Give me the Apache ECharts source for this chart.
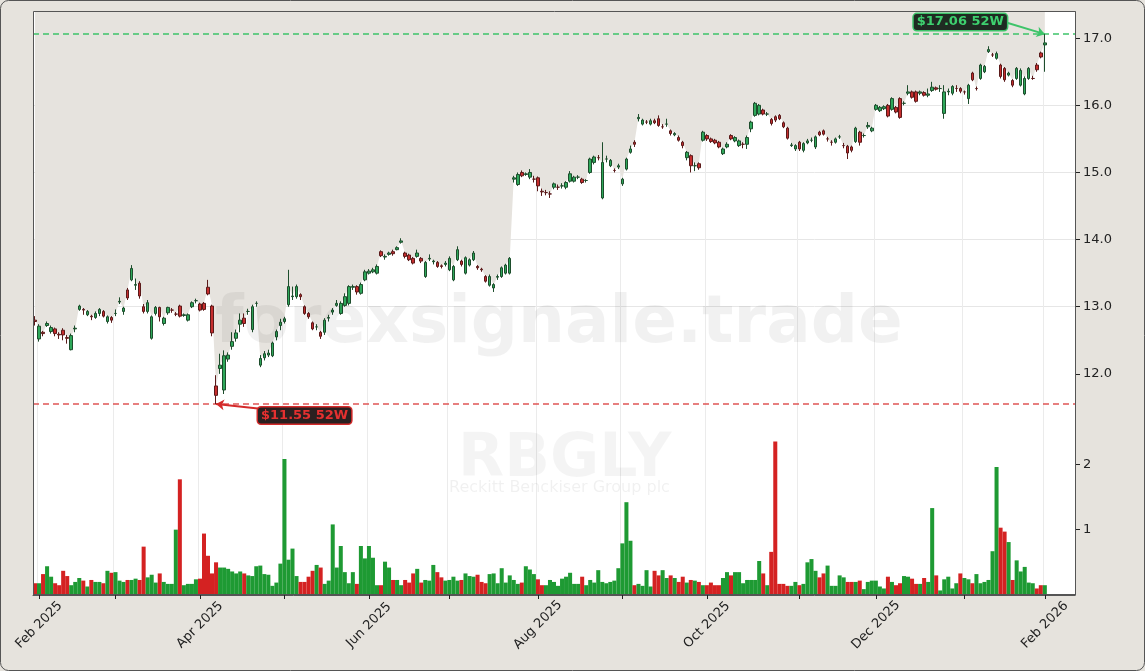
<!DOCTYPE html>
<html><head><meta charset="utf-8">
<script src="https://cdn.jsdelivr.net/npm/echarts@6/dist/echarts.min.js"></script>
<style>html,body{margin:0;padding:0;background:#e6e3dd;}#c{width:1145px;height:671px;}</style>
</head><body><div id="c"></div>
<script>
// OHLC [open, close, low, high] per trading day, starting 2025-01-31
const ohlc = [
[12.80,12.78,12.72,12.86],[12.52,12.71,12.48,12.74],[12.62,12.60,12.56,12.64],[12.72,12.75,12.70,12.78],[12.63,12.69,12.60,12.72],
[12.67,12.60,12.56,12.69],[12.59,12.58,12.52,12.62],[12.65,12.58,12.50,12.68],[12.54,12.53,12.45,12.58],[12.36,12.57,12.35,12.60],
[12.67,12.68,12.62,12.72],[12.96,13.01,12.94,13.03],[12.96,12.95,12.88,12.98],[12.88,12.93,12.86,12.95],[12.86,12.85,12.80,12.88],
[12.84,12.90,12.82,12.93],[12.90,12.96,12.86,12.98],[12.93,12.86,12.84,12.95],[12.78,12.85,12.75,12.87],[12.84,12.80,12.76,12.86],
[12.90,12.90,12.86,12.96],[13.07,13.08,13.04,13.14],[12.93,12.98,12.88,13.00],[13.25,13.13,13.10,13.28],[13.40,13.57,13.38,13.62],
[13.32,13.33,13.25,13.42],[13.35,13.16,13.12,13.38],[13.00,12.93,12.90,13.04],[12.93,13.06,12.90,13.10],[12.53,12.85,12.51,12.87],
[12.90,12.99,12.87,13.01],[12.99,12.85,12.78,13.00],[12.75,12.83,12.72,12.85],[12.91,12.99,12.88,13.00],[12.95,12.95,12.91,12.98],
[12.89,12.89,12.86,12.92],[13.01,12.86,12.84,13.03],[12.87,12.88,12.85,12.90],[12.80,12.88,12.78,12.90],[13.00,13.06,12.98,13.08],
[13.09,13.09,13.05,13.12],[13.04,12.95,12.93,13.06],[13.05,12.96,12.94,13.07],[13.29,13.19,13.17,13.40],[13.01,12.61,12.56,13.03],
[11.82,11.68,11.55,11.98],[12.08,12.13,12.00,12.30],[11.76,12.27,11.70,12.35],[12.22,12.28,12.18,12.32],[12.41,12.48,12.36,12.62],
[12.53,12.61,12.48,12.66],[12.74,12.80,12.62,12.90],[12.83,12.75,12.70,12.90],[12.93,12.93,12.88,12.97],[12.66,13.00,12.62,13.03],
[13.05,13.05,13.00,13.08],[12.13,12.23,12.10,12.28],[12.24,12.30,12.20,12.34],[12.28,12.31,12.25,12.36],[12.27,12.46,12.25,12.48],
[12.55,12.63,12.50,12.66],[12.72,12.77,12.65,12.82],[12.78,12.82,12.75,12.85],[13.03,13.30,13.00,13.55],[13.15,13.16,13.10,13.30],
[13.15,13.30,13.12,13.33],[13.18,13.15,13.10,13.20],[13.00,12.90,12.88,13.02],[12.90,12.85,12.82,12.92],[12.76,12.67,12.65,12.78],
[12.70,12.70,12.65,12.74],[12.62,12.56,12.52,12.64],[12.62,12.80,12.58,12.83],[12.83,12.84,12.78,12.88],[12.92,12.95,12.88,12.98],
[13.02,13.05,13.00,13.10],[12.90,13.05,12.88,13.08],[13.02,13.15,13.00,13.20],[13.05,13.30,13.02,13.32],[13.29,13.30,13.25,13.33],
[13.30,13.22,13.18,13.32],[13.20,13.33,13.18,13.36],[13.40,13.52,13.38,13.55],[13.50,13.53,13.48,13.56],[13.52,13.55,13.50,13.58],
[13.50,13.60,13.48,13.63],[13.82,13.76,13.74,13.84],[13.74,13.75,13.70,13.78],[13.78,13.80,13.76,13.82],[13.82,13.79,13.76,13.85],
[13.85,13.88,13.84,13.90],[13.96,13.98,13.94,14.02],[13.80,13.75,13.72,13.82],[13.77,13.70,13.68,13.79],[13.72,13.65,13.63,13.74],
[13.75,13.80,13.73,13.85],[13.72,13.68,13.65,13.74],[13.45,13.66,13.43,13.68],[13.71,13.72,13.68,13.78],[13.67,13.68,13.63,13.70],
[13.66,13.60,13.58,13.68],[13.61,13.60,13.57,13.63],[13.63,13.65,13.60,13.68],[13.55,13.72,13.53,13.75],[13.40,13.60,13.38,13.62],
[13.70,13.85,13.68,13.90],[13.68,13.63,13.60,13.70],[13.50,13.73,13.48,13.75],[13.62,13.70,13.60,13.72],[13.70,13.80,13.68,13.83],
[13.60,13.58,13.55,13.62],[13.56,13.55,13.52,13.58],[13.45,13.38,13.36,13.47],[13.32,13.45,13.30,13.48],[13.28,13.33,13.22,13.35],
[13.44,13.45,13.40,13.48],[13.45,13.58,13.43,13.60],[13.50,13.62,13.48,13.64],[13.50,13.72,13.48,13.74],
[14.90,14.92,14.85,14.95],[14.82,14.97,14.80,15.00],[15.00,14.95,14.93,15.03],[14.97,14.98,14.95,15.00],[14.93,15.00,14.90,15.05],
[14.90,14.90,14.85,14.95],[14.92,14.80,14.72,14.94],[14.72,14.71,14.65,14.76],[14.70,14.70,14.66,14.74],[14.68,14.68,14.62,14.72],
[14.78,14.83,14.75,14.85],[14.78,14.78,14.74,14.82],[14.80,14.80,14.76,14.84],[14.78,14.85,14.75,14.87],[14.87,14.98,14.85,15.02],
[14.87,14.93,14.85,14.95],[14.93,14.93,14.90,14.96],[14.90,14.85,14.83,14.92],[14.88,14.88,14.85,14.90],[15.00,15.20,14.98,15.22],
[15.15,15.23,15.12,15.25],[15.22,15.22,15.18,15.26],[14.62,15.15,14.60,15.45],[15.20,15.20,15.15,15.25],[15.10,15.18,15.08,15.20],
[15.03,15.03,15.00,15.06],[15.08,15.10,15.05,15.13],[14.83,14.90,14.80,14.92],[15.05,15.20,15.03,15.22],[15.30,15.35,15.28,15.40],
[15.45,15.42,15.38,15.48],[15.80,15.82,15.76,15.87],[15.72,15.78,15.70,15.80],[15.75,15.75,15.72,15.78],[15.72,15.77,15.70,15.80],
[15.77,15.74,15.72,15.80],[15.80,15.70,15.68,15.85],[15.68,15.68,15.65,15.72],[15.72,15.72,15.68,15.80],[15.62,15.58,15.55,15.64],
[15.56,15.58,15.54,15.60],[15.52,15.48,15.46,15.55],[15.45,15.40,15.36,15.47],[15.22,15.30,15.18,15.32],[15.25,15.10,15.00,15.27],
[15.10,15.10,15.02,15.15],[15.13,15.07,15.04,15.15],[15.48,15.60,15.46,15.62],[15.55,15.50,15.47,15.57],[15.50,15.46,15.44,15.52],
[15.48,15.44,15.42,15.50],[15.45,15.38,15.36,15.47],[15.28,15.35,15.26,15.37],[15.38,15.42,15.36,15.45],[15.55,15.50,15.48,15.57],
[15.47,15.52,15.45,15.54],[15.40,15.47,15.38,15.49],[15.42,15.42,15.36,15.45],[15.42,15.52,15.35,15.55],[15.65,15.75,15.60,15.77],
[15.85,16.03,15.83,16.05],[15.87,16.00,15.85,16.02],[15.93,15.87,15.85,15.95],[15.87,15.87,15.84,15.90],[15.79,15.73,15.70,15.81],
[15.83,15.78,15.75,15.85],[15.85,15.80,15.78,15.87],[15.74,15.68,15.66,15.76],[15.66,15.51,15.49,15.68],[15.40,15.41,15.38,15.44],
[15.35,15.40,15.32,15.42],[15.45,15.35,15.32,15.47],[15.33,15.43,15.30,15.45],[15.44,15.47,15.42,15.50],[15.48,15.48,15.45,15.52],
[15.38,15.53,15.35,15.55],[15.60,15.56,15.54,15.62],[15.62,15.57,15.55,15.64],[15.50,15.50,15.46,15.53],[15.45,15.45,15.40,15.48],
[15.45,15.50,15.43,15.52],[15.53,15.53,15.50,15.56],[15.40,15.40,15.36,15.44],[15.39,15.29,15.20,15.41],[15.38,15.33,15.30,15.40],
[15.46,15.66,15.44,15.68],[15.60,15.45,15.40,15.62],[15.55,15.55,15.52,15.58],[15.68,15.70,15.65,15.75],[15.62,15.66,15.60,15.68],
[15.94,16.00,15.92,16.02],[15.92,15.97,15.90,15.99],[15.95,15.98,15.93,16.00],[16.00,15.84,15.82,16.02],[15.94,16.10,15.92,16.12],
[15.97,15.90,15.88,15.99],[16.10,15.82,15.80,16.12],[16.03,16.03,16.00,16.06],[16.18,16.20,16.15,16.30],[16.20,16.12,16.10,16.22],
[16.20,16.06,16.04,16.22],[16.18,16.20,16.15,16.22],[16.19,16.15,16.13,16.21],[16.15,16.17,16.12,16.25],[16.22,16.27,16.20,16.35],
[16.26,16.24,16.22,16.28],[16.25,16.25,16.20,16.30],[15.88,16.20,15.80,16.30],[16.20,16.21,16.15,16.25],[16.18,16.28,16.15,16.30],
[16.25,16.25,16.20,16.30],[16.25,16.21,16.18,16.27],[16.20,16.20,16.16,16.22],[16.10,16.30,16.02,16.32],[16.48,16.38,16.36,16.50],
[16.25,16.25,16.22,16.28],[16.40,16.60,16.38,16.62],[16.50,16.58,16.48,16.60],[16.80,16.83,16.78,16.88],[16.75,16.75,16.72,16.78],
[16.70,16.77,16.68,16.80],[16.60,16.43,16.40,16.62],[16.55,16.38,16.35,16.57],[16.45,16.48,16.43,16.50],[16.37,16.30,16.27,16.39],
[16.40,16.55,16.38,16.57],[16.30,16.52,16.28,16.55],[16.17,16.40,16.15,16.43],[16.40,16.55,16.38,16.57],[16.40,16.40,16.38,16.44],
[16.60,16.53,16.50,16.63],[16.78,16.72,16.70,16.80],[16.90,16.93,16.50,17.06]
];
// volume in millions
const volume = [
0.18,0.18,0.32,0.44,0.28,0.18,0.15,0.37,0.29,0.15,0.2,0.26,0.22,0.13,0.23,0.2,0.2,0.18,0.37,0.34,
0.35,0.22,0.2,0.23,0.23,0.25,0.23,0.74,0.27,0.31,0.19,0.33,0.2,0.17,0.17,1.0,1.77,0.15,0.17,0.17,
0.24,0.25,0.94,0.6,0.33,0.5,0.42,0.42,0.4,0.36,0.33,0.36,0.33,0.3,0.29,0.44,0.45,0.32,0.31,0.14,
0.19,0.48,2.08,0.54,0.71,0.29,0.2,0.2,0.28,0.37,0.46,0.42,0.17,0.22,1.08,0.42,0.75,0.35,0.18,0.35,
0.17,0.75,0.56,
0.75,0.57,0.15,0.15,0.51,0.42,0.23,0.23,0.15,0.23,0.19,0.33,0.4,0.19,0.23,0.22,0.46,0.35,0.27,0.22,
0.23,0.28,0.22,0.23,0.33,0.29,0.28,0.31,0.2,0.18,0.32,0.33,0.18,0.41,0.19,0.3,0.23,0.17,0.19,0.44,
0.39,0.32,0.24,0.15,0.15,0.23,0.2,0.14,0.25,0.28,0.34,0.17,0.17,0.28,0.15,0.23,0.19,0.38,0.2,0.18,
0.2,0.22,0.41,0.79,1.42,0.83,0.15,0.17,0.14,0.38,0.13,0.37,0.3,0.38,0.26,0.3,0.26,0.2,0.28,0.19,0.23,
0.22,0.2,0.15,0.15,
0.19,0.15,0.15,0.26,0.35,0.3,0.35,0.35,0.18,0.23,0.23,0.23,0.52,0.33,0.15,0.66,2.35,0.17,0.17,0.14,
0.14,0.2,0.15,0.17,0.5,0.55,0.37,0.27,0.33,0.45,0.14,0.14,0.3,0.27,0.2,0.2,0.2,0.22,0.09,0.2,
0.22,0.22,0.13,0.1,0.28,0.2,0.15,0.18,0.29,0.28,0.25,0.17,0.17,0.26,0.2,1.33,0.3,0.07,0.24,0.28,
0.1,0.18,0.33,0.26,0.24,0.18,0.32,0.18,0.2,0.23,0.67,1.96,1.03,0.97,0.81,0.23,0.53,0.36,0.43,0.19,
0.18,0.1
];
const priceTicks = [12, 13, 14, 15, 16, 17];
const volumeTicks = [1, 2];
const holidays = ['2025-02-17','2025-04-18','2025-05-26','2025-06-19','2025-07-04','2025-09-01','2025-11-27','2025-12-25','2026-01-01','2026-01-19'];
const monthNames = ['Jan','Feb','Mar','Apr','May','Jun','Jul','Aug','Sep','Oct','Nov','Dec'];
const PAD = 7;

const dates = [];
{
  let d = new Date(Date.UTC(2025,0,31));
  while (dates.length < ohlc.length + PAD) {
    const wd = d.getUTCDay(), s = d.toISOString().slice(0,10);
    if (wd !== 0 && wd !== 6 && holidays.indexOf(s) < 0) dates.push(s);
    d = new Date(d.getTime() + 86400000);
  }
}
const isMonthStart = i => i > 0 && dates[i].slice(5,7) !== dates[i-1].slice(5,7);
const isLabel = i => isMonthStart(i) && (parseInt(dates[i].slice(5,7)) % 2 === 0);

const candleData = ohlc.map(r => r.slice());
const shadeData = ohlc.map(r => Math.max(r[0], r[1]));
const volData = ohlc.map((r, i) => ({
  value: volume[i] !== undefined ? volume[i] : 0.15,
  itemStyle: { color: r[1] >= r[0] ? '#1e9a33' : '#d42222' }
}));
const lowIdx = 45, highIdx = ohlc.length - 1;

const chart = echarts.init(document.getElementById('c'));
const axisLabelStyle = { color: '#222', fontSize: 13, fontFamily: 'DejaVu Sans' };
const tagLabel = (txt, fg, bg, bd) => ({ show: true, position: 'inside', formatter: txt, color: fg, fontWeight: 'bold', fontSize: 13,
  fontFamily: 'DejaVu Sans', backgroundColor: bg, borderColor: bd, borderWidth: 1.5, borderRadius: 3, padding: [2,3,1,3] });
chart.setOption({
  backgroundColor: '#e6e3dd',
  animation: false,
  grid: [
    { left: 33, right: 70, top: 12, height: 429, backgroundColor: '#fff', show: true, borderWidth: 0, outerBoundsMode: 'none', containLabel: false },
    { left: 33, right: 70, top: 429, bottom: 76, backgroundColor: '#fff', show: true, borderWidth: 0, outerBoundsMode: 'none', containLabel: false }
  ],
  xAxis: [0,1].map(g => ({
    type: 'category', gridIndex: g, data: dates, boundaryGap: true,
    axisLine: { show: g === 1, lineStyle: { color: '#555' } },
    axisTick: { show: g === 1, interval: (i) => isMonthStart(i), alignWithLabel: true, length: 4, lineStyle: { color: '#222' } },
    axisLabel: g === 1 ? {
      ...axisLabelStyle, rotate: 45, margin: 30, align: 'center', verticalAlign: 'middle',
      interval: (i) => isLabel(i),
      formatter: v => monthNames[parseInt(v.slice(5,7)) - 1] + ' ' + v.slice(0,4)
    } : { show: false },
    splitLine: { show: true, interval: (i) => isMonthStart(i), lineStyle: { color: '#ebebeb' } }
  })),
  yAxis: [
    { type: 'value', gridIndex: 0, position: 'right', min: 11, max: 17.39, interval: 1,
      axisLine: { show: true, lineStyle: { color: '#555' } },
      axisTick: { show: true, length: 5, customValues: priceTicks, lineStyle: { color: '#222' } },
      axisLabel: { ...axisLabelStyle, margin: 8, customValues: priceTicks, formatter: v => v.toFixed(1) },
      splitLine: { show: true, showMinLine: false, showMaxLine: false, lineStyle: { color: '#e6e6e6' } } },
    { type: 'value', gridIndex: 1, position: 'right', min: 0, max: 2.54, interval: 1,
      axisLine: { show: true, lineStyle: { color: '#555' } },
      axisTick: { show: true, length: 5, customValues: volumeTicks, lineStyle: { color: '#222' } },
      axisLabel: { ...axisLabelStyle, margin: 8, customValues: volumeTicks, formatter: v => String(v) },
      splitLine: { show: true, showMinLine: false, showMaxLine: false, lineStyle: { color: '#e6e6e6' } } }
  ],
  series: [
    { type: 'line', xAxisIndex: 0, yAxisIndex: 0, data: shadeData, symbol: 'none', silent: true,
      lineStyle: { width: 0 }, areaStyle: { origin: 'end', color: '#e6e3de', opacity: 1 }, z: 1 },
    { type: 'candlestick', xAxisIndex: 0, yAxisIndex: 0, data: candleData, barWidth: 3, z: 5,
      itemStyle: { color: '#2ea85a', color0: '#c62d2d', borderColor: '#1d4d2c', borderColor0: '#5a1a1a', borderWidth: 1 },
      markLine: {
        symbol: ['none','none'], silent: true, label: { show: false },
        data: [
          { yAxis: 17.06, lineStyle: { color: '#3ec46a', type: [6,4], width: 1.6 } },
          { yAxis: 11.55, lineStyle: { color: '#e05555', type: [6,4], width: 1.6 } },
          [ { coord: [lowIdx + 11, 11.48], symbol: 'none', lineStyle: { color: '#d42a2a', width: 2, type: 'solid' } },
            { coord: [lowIdx, 11.55], symbol: 'arrow', symbolSize: 8 } ],
          [ { coord: [highIdx - 10, 17.24], symbol: 'none', lineStyle: { color: '#3ec46a', width: 2, type: 'solid' } },
            { coord: [highIdx, 17.06], symbol: 'arrow', symbolSize: 8 } ]
        ]
      },
      markPoint: {
        symbol: 'rect', symbolSize: [1,1], silent: true,
        itemStyle: { color: 'rgba(0,0,0,0)' },
        data: [
          { coord: [lowIdx + 22, 11.38], label: tagLabel('$11.55 52W', '#e53030', '#2a2020', '#d42a2a') },
          { coord: [highIdx - 21, 17.24], label: tagLabel('$17.06 52W', '#3ed16f', '#1f2b22', '#3ec46a') }
        ]
      }
    },
    { type: 'bar', xAxisIndex: 1, yAxisIndex: 1, data: volData, barCategoryGap: '0%', z: 3 }
  ],
  graphic: [
    { type: 'text', left: 215, top: 292, z: 100, silent: true,
      style: { text: 'forexsignale.trade', font: 'bold 66px "DejaVu Sans"', fill: 'rgba(0,0,0,0.055)' } },
    { type: 'text', left: 458, top: 430, z: 100, silent: true,
      style: { text: 'RBGLY', font: 'bold 60px "DejaVu Sans"', fill: 'rgba(0,0,0,0.045)' } },
    { type: 'text', left: 449, top: 480, z: 100, silent: true,
      style: { text: 'Reckitt Benckiser Group plc', font: '16px "DejaVu Sans"', fill: 'rgba(0,0,0,0.06)' } },
    { type: 'rect', shape: { x: 33.5, y: 11.5, width: 1042, height: 583 }, silent: true, z: 10,
      style: { fill: 'none', stroke: '#555', lineWidth: 1 } },
    { type: 'rect', shape: { x: 0.5, y: 0.5, width: 1144, height: 670, r: 8 }, silent: true, z: 10,
      style: { fill: 'none', stroke: '#555', lineWidth: 1 } }
  ]
});
</script></body></html>
